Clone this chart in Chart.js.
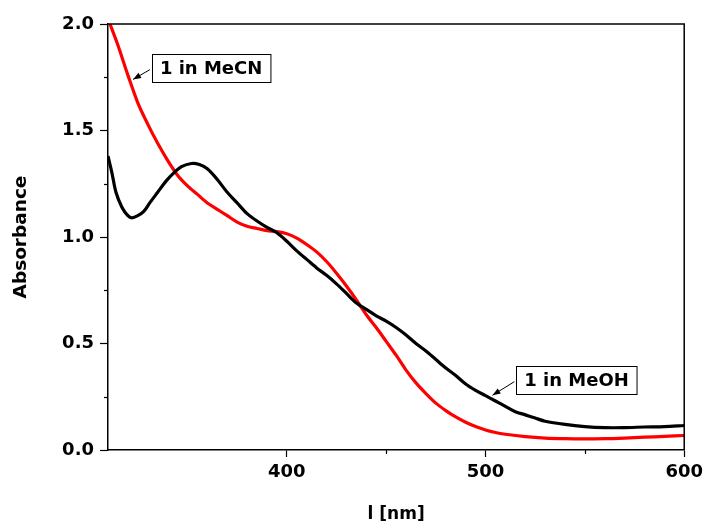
<!DOCTYPE html>
<html>
<head>
<meta charset="utf-8">
<script src="https://cdn.jsdelivr.net/npm/chart.js@4"></script>
<style>
html,body{margin:0;padding:0;background:#fff;}
#wrap{width:708px;height:530px;}
</style>
</head>
<body>
<div id="wrap"><canvas id="c" width="708" height="530"></canvas></div>
<script>
// wavelength (nm) / absorbance for 1 in MeOH (black)
const meohNm = [310,312,314,317,320,322,325,328,331,335,339,343,347,352,356,360,365,370,375,380,385,390,395,400,405,410,415,420,425,430,435,440,445,450,455,460,465,470,475,480,485,490,495,500,505,510,515,520,525,530,540,550,560,570,580,590,600];
const meohAbs = [1.38,1.30,1.21,1.14,1.10,1.09,1.10,1.12,1.16,1.21,1.26,1.30,1.33,1.345,1.34,1.32,1.27,1.21,1.16,1.11,1.075,1.045,1.02,0.98,0.935,0.895,0.855,0.82,0.78,0.735,0.69,0.66,0.63,0.605,0.575,0.54,0.50,0.465,0.425,0.385,0.35,0.31,0.28,0.255,0.23,0.205,0.18,0.165,0.15,0.135,0.12,0.11,0.105,0.105,0.108,0.11,0.115];
// wavelength (nm) / absorbance for 1 in MeCN (red)
const mecnNm = [311,315,320,325,330,335,340,345,350,355,360,365,370,375,380,385,390,395,400,405,410,415,420,425,430,435,440,445,450,455,460,465,470,475,480,485,490,495,500,505,510,520,530,540,550,560,570,580,590,600];
const mecnAbs = [2.0,1.90,1.76,1.63,1.53,1.44,1.36,1.29,1.24,1.20,1.16,1.13,1.10,1.07,1.05,1.04,1.03,1.025,1.015,0.995,0.965,0.93,0.885,0.83,0.77,0.705,0.635,0.575,0.51,0.445,0.375,0.315,0.265,0.22,0.185,0.155,0.13,0.11,0.094,0.082,0.074,0.063,0.056,0.053,0.052,0.053,0.056,0.06,0.064,0.068];
const xTicks = [400,500,600];
const yTicks = [0.0,0.5,1.0,1.5,2.0];
const xMinor = [450,550];
const yMinor = [0.25,0.75,1.25,1.75];
const seriesLabels = ['1 in MeOH','1 in MeCN'];
// annotation anchors (data coords): box top-left and arrow tip
const labelBox = [[515.5,0.393],[332.1,1.858]];
const labelTip = [[503.5,0.257],[322.6,1.74]];

const FONT = '"DejaVu Sans", Verdana, sans-serif';

const deco = {
  id:'deco',
  afterDraw(chart){
    const {ctx, chartArea:a, scales:{x,y}} = chart;
    ctx.save();
    // frame top/right
    ctx.strokeStyle='#000'; ctx.lineWidth=1.5;
    ctx.beginPath();
    ctx.moveTo(a.left,a.top); ctx.lineTo(a.right,a.top); ctx.lineTo(a.right,a.bottom);
    ctx.stroke();
    // minor ticks
    ctx.lineWidth=1.2;
    xMinor.forEach(v=>{const px=Math.round(x.getPixelForValue(v))+0.5;ctx.beginPath();ctx.moveTo(px,a.bottom);ctx.lineTo(px,a.bottom+4);ctx.stroke();});
    yMinor.forEach(v=>{const py=Math.round(y.getPixelForValue(v))+0.5;ctx.beginPath();ctx.moveTo(a.left,py);ctx.lineTo(a.left-4,py);ctx.stroke();});
    // axis titles
    ctx.fillStyle='#000';
    ctx.font='bold 17px '+FONT;
    ctx.textAlign='center'; ctx.textBaseline='middle';
    ctx.fillText('l [nm]', (a.left+a.right)/2, 515);
    ctx.save();
    ctx.translate(21,(a.top+a.bottom)/2);
    ctx.rotate(-Math.PI/2);
    ctx.font='bold 18.5px '+FONT;
    ctx.fillText('Absorbance',0,0);
    ctx.restore();
    // annotations
    ctx.font='bold 18px '+FONT;
    seriesLabels.forEach((t,i)=>{
      const bx=x.getPixelForValue(labelBox[i][0]);
      const by=y.getPixelForValue(labelBox[i][1]);
      const w=ctx.measureText(t).width+16;
      const h=28;
      ctx.fillStyle='#fff';
      ctx.fillRect(bx,by,w,h);
      ctx.strokeStyle='#000'; ctx.lineWidth=1;
      ctx.strokeRect(Math.round(bx)+0.5,Math.round(by)+0.5,w,h);
      ctx.fillStyle='#000';
      ctx.textAlign='center'; ctx.textBaseline='middle';
      ctx.fillText(t,bx+w/2,by+h/2+1);
      // arrow
      const tx=x.getPixelForValue(labelTip[i][0]);
      const ty=y.getPixelForValue(labelTip[i][1]);
      const sx=bx-2, sy=by+h*0.55;
      ctx.beginPath(); ctx.moveTo(sx,sy); ctx.lineTo(tx,ty); ctx.lineWidth=1; ctx.stroke();
      const ang=Math.atan2(ty-sy,tx-sx);
      const L=8,W=3;
      ctx.beginPath();
      ctx.moveTo(tx,ty);
      ctx.lineTo(tx-L*Math.cos(ang)+W*Math.sin(ang), ty-L*Math.sin(ang)-W*Math.cos(ang));
      ctx.lineTo(tx-L*Math.cos(ang)-W*Math.sin(ang), ty-L*Math.sin(ang)+W*Math.cos(ang));
      ctx.closePath(); ctx.fill();
    });
    ctx.restore();
  }
};

new Chart(document.getElementById('c'),{
  type:'line',
  data:{datasets:[
    {label:seriesLabels[0],data:meohNm.map((v,i)=>({x:v,y:meohAbs[i]})),borderColor:'#000',borderWidth:3.2,pointRadius:0,tension:0.3,fill:false},
    {label:seriesLabels[1],data:mecnNm.map((v,i)=>({x:v,y:mecnAbs[i]})),borderColor:'#ff0000',borderWidth:3.2,pointRadius:0,tension:0.3,fill:false}
  ]},
  options:{
    responsive:false,animation:false,
    layout:{padding:{left:0,right:23,top:24,bottom:0}},
    plugins:{legend:{display:false},tooltip:{enabled:false}},
    scales:{
      x:{type:'linear',min:310,max:600,
        afterBuildTicks:s=>{s.ticks=xTicks.map(v=>({value:v}));},
        afterFit:s=>{s.height=80;},
        grid:{drawOnChartArea:false,tickLength:7,tickColor:'#000',tickWidth:1.2},
        border:{color:'#000',width:1.5},
        ticks:{color:'#000',font:{family:FONT,size:18,weight:'bold'},padding:5,maxRotation:0}
      },
      y:{type:'linear',min:0,max:2,
        afterBuildTicks:s=>{s.ticks=yTicks.map(v=>({value:v}));},
        afterFit:s=>{s.width=108;},
        grid:{drawOnChartArea:false,tickLength:8,tickColor:'#000',tickWidth:1.2},
        border:{color:'#000',width:1.5},
        ticks:{color:'#000',font:{family:FONT,size:18,weight:'bold'},padding:6,callback:v=>v.toFixed(1)}
      }
    }
  },
  plugins:[deco]
});
</script>
</body>
</html>
